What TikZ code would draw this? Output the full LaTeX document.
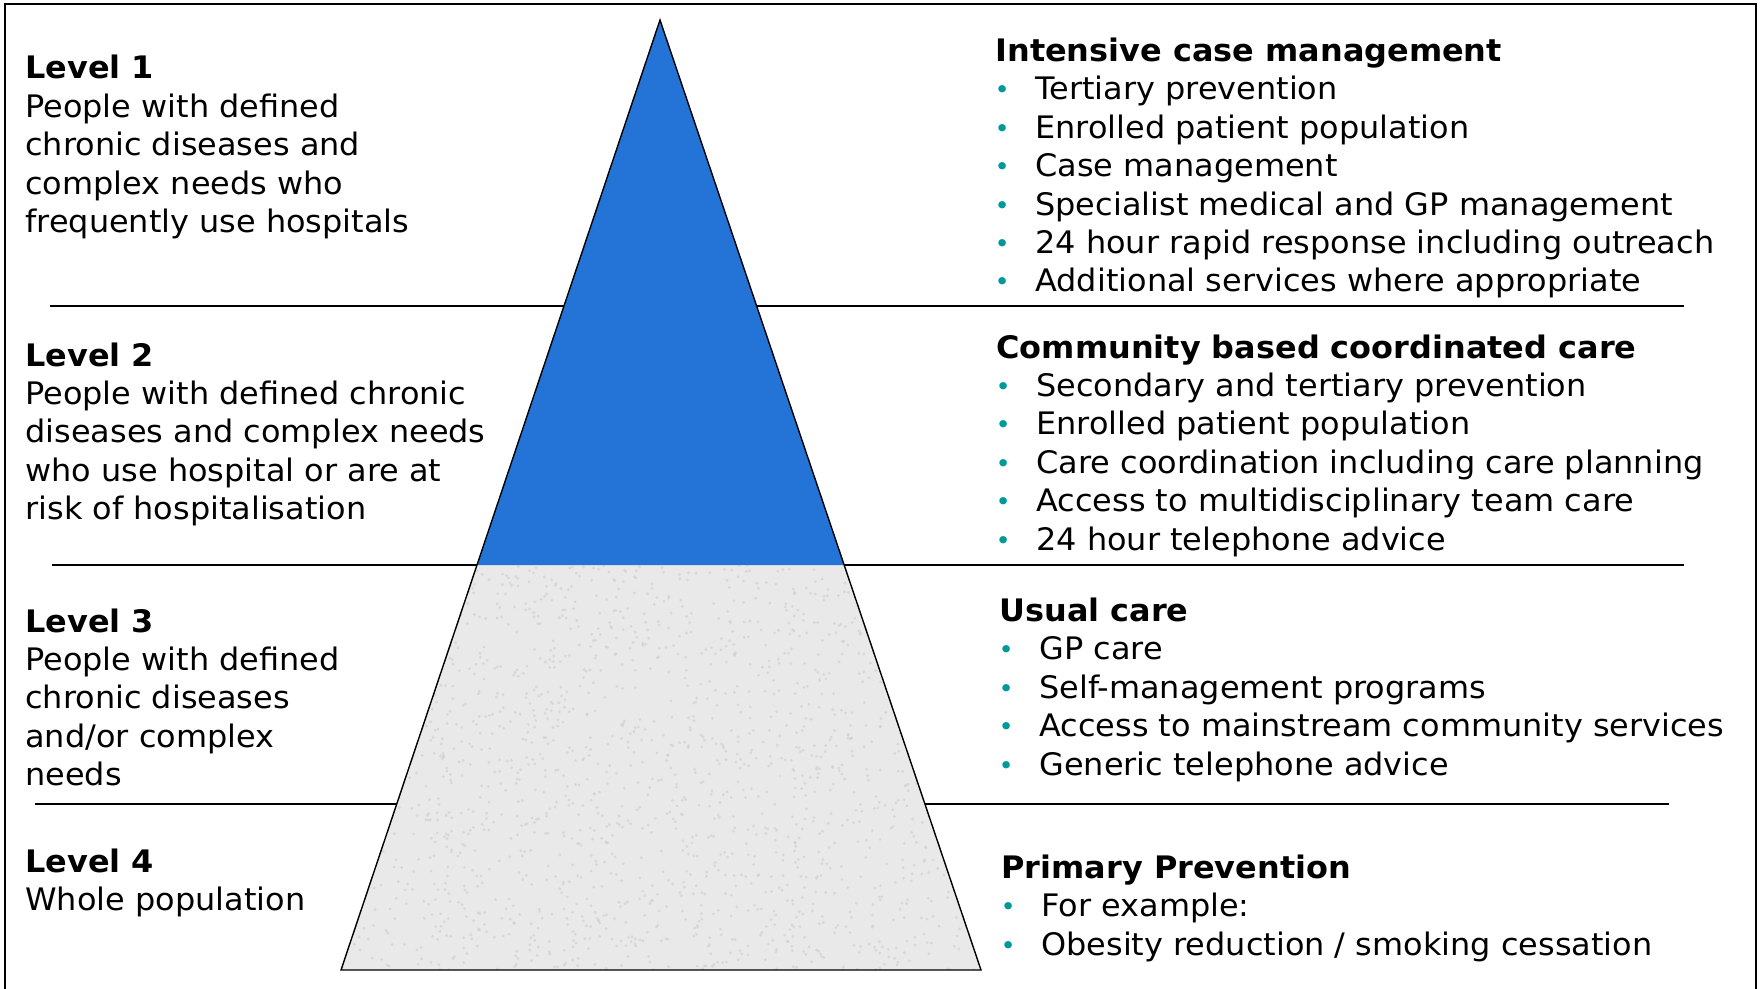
\documentclass[tikz,border=0pt]{standalone}
\usepackage{fontspec}
\setmainfont{DejaVu Sans}[FakeStretch=1.03]
\usetikzlibrary{calc}
\definecolor{pyrblue}{RGB}{35,116,214}
\definecolor{pyrgrey}{RGB}{233,233,233}
\definecolor{speckgrey}{RGB}{205,205,205}
\definecolor{dotteal}{RGB}{0,153,153}
\newcommand{\itm}[1]{\makebox[20pt][l]{\hspace{-0.4pt}\raisebox{0.5pt}{\textcolor{dotteal}{\fontsize{12.5}{12.5}\selectfont\textbullet}}}#1}
\tikzset{
  lvl/.style={anchor=base west, align=left, inner sep=0pt, font=\fontsize{15.5}{19.2}\selectfont},
  sepline/.style={line width=1pt}
}
\begin{document}
\begin{tikzpicture}[x=0.5pt, y=-0.5pt]
            \useasboundingbox (0,0) rectangle (1760,989);
            \draw[line width=1pt] (4.5,1100) -- (4.5,4.5) -- (1756,4.5) -- (1756,1100);

            % separators between the levels
            \draw[sepline] (50,306) -- (1684,306);
            \draw[sepline] (52,565) -- (1684,565);
            \draw[sepline] (35,804) -- (1669,804);

            % pyramid
            \coordinate (apex) at (660,20);
            \coordinate (baseL) at (341,970);
            \coordinate (baseR) at (981,970);
            \coordinate (midL) at ($(apex)!0.5737!(baseL)$);
            \coordinate (midR) at ($(apex)!0.5737!(baseR)$);
            \fill[pyrgrey] (midL) -- (midR) -- (baseR) -- (baseL) -- cycle;
            \begin{scope}
              \clip (midL) -- (midR) -- (baseR) -- (baseL) -- cycle;
              \pgfmathsetseed{7}
              \foreach \k in {1,...,1800}
                \fill[speckgrey, opacity=0.6] (341+640*rnd,565+405*rnd) circle (1.6);
            \end{scope}
            \fill[pyrblue] (apex) -- (midR) -- (midL) -- cycle;
            \draw[line width=0.7pt] (apex) -- (baseR) -- (baseL) -- cycle;

            % levels (anchored on the last line)
            \node[lvl] (lvA) at (25,232.6) {\textbf{Level 1}\\People with defined\\chronic diseases and\\complex needs who\\frequently use hospitals};
            \node[lvl] (lvB) at (25,519.6) {\textbf{Level 2}\\People with defined chronic\\diseases and complex needs\\who use hospital or are at\\risk of hospitalisation};
            \node[lvl] (lvC) at (25,785.6) {\textbf{Level 3}\\People with defined\\chronic diseases\\and/or complex\\needs};
            \node[lvl] (lvD) at (25,910.4) {\textbf{Level 4}\\Whole population};

            % care
            \node[lvl] (careA) at (995,291.9) {\textbf{Intensive case management}\\\itm{Tertiary prevention}\\\itm{Enrolled patient population}\\\itm{Case management}\\\itm{Specialist medical and GP management}\\\itm{24 hour rapid response including outreach}\\\itm{Additional services where appropriate}};
            \node[lvl] (careB) at (996,550) {\textbf{Community based coordinated care}\\\itm{Secondary and tertiary prevention}\\\itm{Enrolled patient population}\\\itm{Care coordination including care planning}\\\itm{Access to multidisciplinary team care}\\\itm{24 hour telephone advice}};
            \node[lvl] (careC) at (999,775.1) {\textbf{Usual care}\\\itm{GP care}\\\itm{Self-management programs}\\\itm{Access to mainstream community services}\\\itm{Generic telephone advice}};
            \node[lvl] (careD) at (1001,955.3) {\textbf{Primary Prevention}\\\itm{For example:}\\\itm{Obesity reduction / smoking cessation}};
        \end{tikzpicture}
\end{document}
